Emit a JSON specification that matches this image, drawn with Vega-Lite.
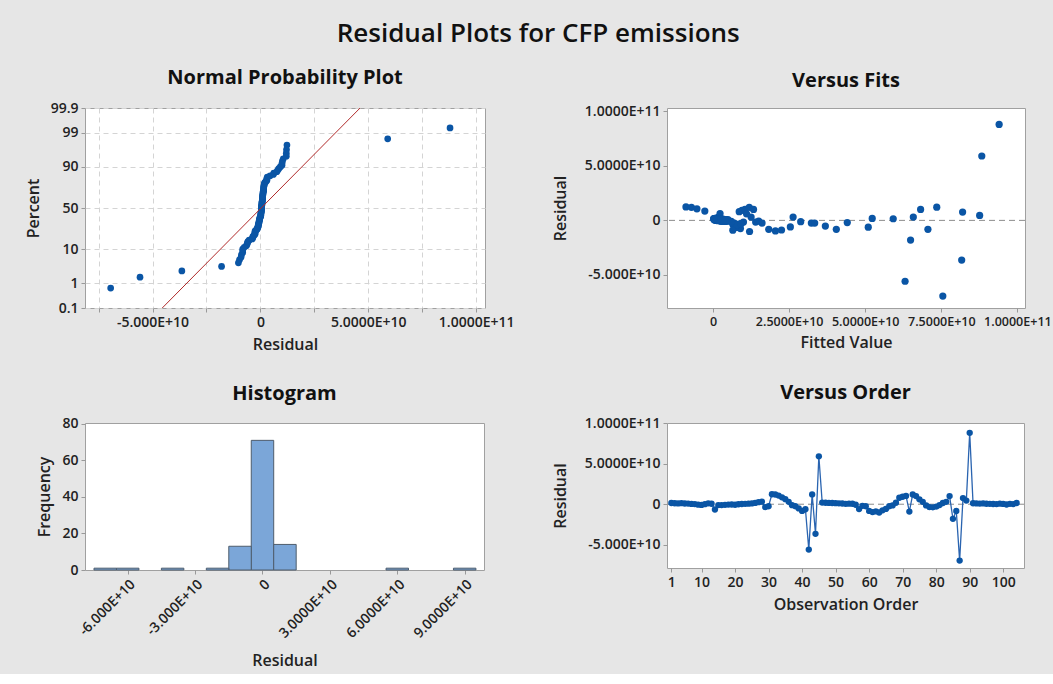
{
  "$schema": "https://vega.github.io/schema/vega-lite/v6.json",
  "background": "#e6e6e6",
  "padding": {"left": 24, "top": 20, "right": 10, "bottom": 5},
  "title": {"text": "Residual Plots for CFP emissions", "fontSize": 26, "fontWeight": 600, "font": "Open Sans", "color": "#111111", "anchor": "middle", "offset": 21},
  "datasets": {
    "obs": [
      {"order": 1, "fit": 0.5e9, "resid": 1.5e9, "z": 0.542},
      {"order": 2, "fit": 1.0e9, "resid": 1.2e9, "z": 0.433},
      {"order": 3, "fit": 1.5e9, "resid": 1.0e9, "z": 0.279},
      {"order": 4, "fit": 0.8e9, "resid": 1.3e9, "z": 0.487},
      {"order": 5, "fit": 2.0e9, "resid": 0.9e9, "z": 0.230},
      {"order": 6, "fit": 2.5e9, "resid": 0.8e9, "z": 0.181},
      {"order": 7, "fit": 3.0e9, "resid": 0.4e9, "z": -0.108},
      {"order": 8, "fit": 3.5e9, "resid": 0.2e9, "z": -0.230},
      {"order": 9, "fit": 4.5e9, "resid": -0.5e9, "z": -0.381},
      {"order": 10, "fit": 5.0e9, "resid": -0.8e9, "z": -0.487},
      {"order": 11, "fit": 1.2e9, "resid": 0.1e9, "z": -0.254},
      {"order": 12, "fit": 0.3e9, "resid": 1.1e9, "z": 0.381},
      {"order": 13, "fit": 1.8e9, "resid": 0.6e9, "z": 0.036},
      {"order": 14, "fit": 8.0e9, "resid": -6.5e9, "z": -1.167},
      {"order": 15, "fit": 4.0e9, "resid": -1.0e9, "z": -0.570},
      {"order": 16, "fit": 3.2e9, "resid": -1.0e9, "z": -0.542},
      {"order": 17, "fit": 2.8e9, "resid": -0.7e9, "z": -0.460},
      {"order": 18, "fit": 2.2e9, "resid": -0.4e9, "z": -0.355},
      {"order": 19, "fit": 1.6e9, "resid": -0.3e9, "z": -0.330},
      {"order": 20, "fit": 2.6e9, "resid": -0.6e9, "z": -0.433},
      {"order": 21, "fit": 1.0e9, "resid": 0.0, "z": -0.279},
      {"order": 22, "fit": 0.6e9, "resid": 0.3e9, "z": -0.157},
      {"order": 23, "fit": 0.4e9, "resid": 0.5e9, "z": -0.060},
      {"order": 24, "fit": 0.9e9, "resid": 0.7e9, "z": 0.108},
      {"order": 25, "fit": 1.4e9, "resid": 1.0e9, "z": 0.305},
      {"order": 26, "fit": 0.2e9, "resid": 1.6e9, "z": 0.657},
      {"order": 27, "fit": 1.7e9, "resid": 2.5e9, "z": 0.814},
      {"order": 28, "fit": 2.0e9, "resid": 3.2e9, "z": 0.956},
      {"order": 29, "fit": 6.5e9, "resid": -3.5e9, "z": -0.918},
      {"order": 30, "fit": 7.0e9, "resid": -2.5e9, "z": -0.814},
      {"order": 31, "fit": -8.9e9, "resid": 12.3e9, "z": 1.946},
      {"order": 32, "fit": -7.1e9, "resid": 12.0e9, "z": 1.602},
      {"order": 33, "fit": -5.3e9, "resid": 10.6e9, "z": 1.522},
      {"order": 34, "fit": -2.7e9, "resid": 8.5e9, "z": 1.216},
      {"order": 35, "fit": 2.3e9, "resid": 6.2e9, "z": 1.077},
      {"order": 36, "fit": 26.3e9, "resid": 3.0e9, "z": 0.848},
      {"order": 37, "fit": 28.8e9, "resid": -1.2e9, "z": -0.598},
      {"order": 38, "fit": 32.3e9, "resid": -2.5e9, "z": -0.781},
      {"order": 39, "fit": 36.9e9, "resid": -5.2e9, "z": -0.994},
      {"order": 40, "fit": 40.5e9, "resid": -8.2e9, "z": -1.383},
      {"order": 41, "fit": 51.0e9, "resid": -6.2e9, "z": -1.120},
      {"order": 42, "fit": 63.1e9, "resid": -55.8e9, "z": -2.137},
      {"order": 43, "fit": 73.5e9, "resid": 12.1e9, "z": 1.806},
      {"order": 44, "fit": 81.7e9, "resid": -36.4e9, "z": -1.946},
      {"order": 45, "fit": 88.3e9, "resid": 59.0e9, "z": 2.137},
      {"order": 46, "fit": 1.1e9, "resid": 2.0e9, "z": 0.781},
      {"order": 47, "fit": 0.7e9, "resid": 1.8e9, "z": 0.717},
      {"order": 48, "fit": 2.1e9, "resid": 1.6e9, "z": 0.686},
      {"order": 49, "fit": 2.4e9, "resid": 1.5e9, "z": 0.570},
      {"order": 50, "fit": 3.1e9, "resid": 1.3e9, "z": 0.514},
      {"order": 51, "fit": 1.9e9, "resid": 1.1e9, "z": 0.407},
      {"order": 52, "fit": 2.3e9, "resid": 0.9e9, "z": 0.254},
      {"order": 53, "fit": 3.7e9, "resid": 0.5e9, "z": -0.036},
      {"order": 54, "fit": 4.3e9, "resid": 0.7e9, "z": 0.132},
      {"order": 55, "fit": 4.9e9, "resid": 0.6e9, "z": 0.060},
      {"order": 56, "fit": 15.0e9, "resid": -0.6e9, "z": -0.407},
      {"order": 57, "fit": 25.4e9, "resid": -6.0e9, "z": -1.077},
      {"order": 58, "fit": 44.1e9, "resid": -2.0e9, "z": -0.686},
      {"order": 59, "fit": 16.1e9, "resid": -2.5e9, "z": -0.749},
      {"order": 60, "fit": 18.3e9, "resid": -8.2e9, "z": -1.323},
      {"order": 61, "fit": 20.5e9, "resid": -9.7e9, "z": -1.602},
      {"order": 62, "fit": 22.5e9, "resid": -8.8e9, "z": -1.449},
      {"order": 63, "fit": 12.0e9, "resid": -10.2e9, "z": -1.695},
      {"order": 64, "fit": 9.0e9, "resid": -7.5e9, "z": -1.216},
      {"order": 65, "fit": 7.5e9, "resid": -5.8e9, "z": -1.035},
      {"order": 66, "fit": 33.4e9, "resid": -2.5e9, "z": -0.717},
      {"order": 67, "fit": 10.0e9, "resid": -1.5e9, "z": -0.657},
      {"order": 68, "fit": 52.3e9, "resid": 1.8e9, "z": 0.749},
      {"order": 69, "fit": 8.6e9, "resid": 8.0e9, "z": 1.167},
      {"order": 70, "fit": 9.5e9, "resid": 9.2e9, "z": 1.268},
      {"order": 71, "fit": 10.5e9, "resid": 10.2e9, "z": 1.449},
      {"order": 72, "fit": 6.5e9, "resid": -9.0e9, "z": -1.522},
      {"order": 73, "fit": 11.9e9, "resid": 12.0e9, "z": 1.695},
      {"order": 74, "fit": 13.3e9, "resid": 10.0e9, "z": 1.323},
      {"order": 75, "fit": 11.0e9, "resid": 6.0e9, "z": 1.035},
      {"order": 76, "fit": 12.5e9, "resid": 3.0e9, "z": 0.882},
      {"order": 77, "fit": 14.0e9, "resid": -1.5e9, "z": -0.627},
      {"order": 78, "fit": 8.5e9, "resid": -3.5e9, "z": -0.882},
      {"order": 79, "fit": 7.8e9, "resid": -3.8e9, "z": -0.956},
      {"order": 80, "fit": 9.2e9, "resid": -3.0e9, "z": -0.848},
      {"order": 81, "fit": 6.0e9, "resid": -1.0e9, "z": -0.514},
      {"order": 82, "fit": 59.2e9, "resid": 1.5e9, "z": 0.598},
      {"order": 83, "fit": 65.8e9, "resid": 3.0e9, "z": 0.918},
      {"order": 84, "fit": 68.2e9, "resid": 10.0e9, "z": 1.383},
      {"order": 85, "fit": 64.9e9, "resid": -18.0e9, "z": -1.806},
      {"order": 86, "fit": 70.6e9, "resid": -8.2e9, "z": -1.268},
      {"order": 87, "fit": 75.5e9, "resid": -69.4e9, "z": -2.474},
      {"order": 88, "fit": 82.0e9, "resid": 7.6e9, "z": 1.120},
      {"order": 89, "fit": 87.6e9, "resid": 4.5e9, "z": 0.994},
      {"order": 90, "fit": 94.0e9, "resid": 87.9e9, "z": 2.474},
      {"order": 91, "fit": 0.5e9, "resid": 1.2e9, "z": 0.460},
      {"order": 92, "fit": 1.3e9, "resid": 1.0e9, "z": 0.330},
      {"order": 93, "fit": 2.0e9, "resid": 0.8e9, "z": 0.205},
      {"order": 94, "fit": 1.0e9, "resid": 1.0e9, "z": 0.355},
      {"order": 95, "fit": 2.6e9, "resid": 0.6e9, "z": 0.084},
      {"order": 96, "fit": 3.0e9, "resid": 0.5e9, "z": -0.012},
      {"order": 97, "fit": 1.8e9, "resid": 0.3e9, "z": -0.132},
      {"order": 98, "fit": 3.8e9, "resid": 0.2e9, "z": -0.205},
      {"order": 99, "fit": 0.9e9, "resid": 0.7e9, "z": 0.157},
      {"order": 100, "fit": 2.4e9, "resid": 0.4e9, "z": -0.084},
      {"order": 101, "fit": 3.3e9, "resid": -0.3e9, "z": -0.305},
      {"order": 102, "fit": 1.5e9, "resid": 0.5e9, "z": 0.012},
      {"order": 103, "fit": 4.1e9, "resid": 0.2e9, "z": -0.181},
      {"order": 104, "fit": 0.3e9, "resid": 1.5e9, "z": 0.627}
    ],
    "refline": [
      {"resid": -4.55e10, "z": -3.0902},
      {"resid": 4.62e10, "z": 3.0902}
    ]
  },
  "config": {
    "font": "Open Sans",
    "view": {"fill": "white", "stroke": "#a0a0a0", "strokeWidth": 1},
    "axis": {
      "labelFont": "Open Sans", "labelFontSize": 14, "labelFontWeight": 600, "labelColor": "#222222",
      "titleFont": "Open Sans", "titleFontSize": 16, "titleFontWeight": 600, "titleColor": "#222222",
      "domain": false, "tickColor": "#999999", "tickSize": 4, "labelPadding": 3, "labelOverlap": false,
      "grid": false, "gridColor": "#d4d4d4", "gridDash": [5, 4], "gridWidth": 1
    },
    "axisX": {"titlePadding": 7},
    "axisY": {"titlePadding": 9},
    "title": {"font": "Open Sans", "fontSize": 20, "fontWeight": "bold", "color": "#111111", "offset": 13}
  },
  "columns": 2,
  "bounds": "flush",
  "spacing": {"row": 115, "column": 182},
  "concat": [
    {
      "width": 400, "height": 200,
      "title": "Normal Probability Plot",
      "layer": [
        {
          "data": {"name": "obs"},
          "mark": {"type": "circle", "size": 45, "color": "#0a55a5", "opacity": 1},
          "encoding": {
            "x": {"field": "resid", "type": "quantitative", "title": "Residual",
              "scale": {"domain": [-8.13e10, 1.041e11], "nice": false, "zero": false},
              "axis": {"grid": true, "labelOverlap": false, "values": [-7.5e10, -5e10, -2.5e10, 0, 2.5e10, 5e10, 7.5e10, 1e11],
                "labelExpr": "datum.value == -5e10 ? '-5.000E+10' : datum.value == 0 ? '0' : datum.value == 5e10 ? '5.0000E+10' : datum.value == 1e11 ? '1.0000E+11' : ''"}},
            "y": {"field": "z", "type": "quantitative", "title": "Percent",
              "scale": {"domain": [-3.0902, 3.0902], "nice": false, "zero": false},
              "axis": {"grid": true, "labelOverlap": false, "values": [-3.0902, -2.3263, -1.2816, 0, 1.2816, 2.3263, 3.0902],
                "labelExpr": "datum.value < -3 ? '0.1' : datum.value < -2 ? '1' : datum.value < -1 ? '10' : datum.value < 0.5 ? '50' : datum.value < 2 ? '90' : datum.value < 3 ? '99' : '99.9'"}}
          }
        },
        {
          "data": {"name": "refline"},
          "mark": {"type": "line", "color": "#b02a2a", "strokeWidth": 1, "clip": true},
          "encoding": {
            "x": {"field": "resid", "type": "quantitative", "title": "Residual",
              "scale": {"domain": [-8.13e10, 1.041e11], "nice": false, "zero": false},
              "axis": {"grid": true, "labelOverlap": false, "values": [-7.5e10, -5e10, -2.5e10, 0, 2.5e10, 5e10, 7.5e10, 1e11],
                "labelExpr": "datum.value == -5e10 ? '-5.000E+10' : datum.value == 0 ? '0' : datum.value == 5e10 ? '5.0000E+10' : datum.value == 1e11 ? '1.0000E+11' : ''"}},
            "y": {"field": "z", "type": "quantitative", "title": "Percent",
              "scale": {"domain": [-3.0902, 3.0902], "nice": false, "zero": false},
              "axis": {"grid": true, "labelOverlap": false, "values": [-3.0902, -2.3263, -1.2816, 0, 1.2816, 2.3263, 3.0902],
                "labelExpr": "datum.value < -3 ? '0.1' : datum.value < -2 ? '1' : datum.value < -1 ? '10' : datum.value < 0.5 ? '50' : datum.value < 2 ? '90' : datum.value < 3 ? '99' : '99.9'"}}
          }
        }
      ]
    },
    {
      "width": 358, "height": 200,
      "title": "Versus Fits",
      "layer": [
        {
          "data": {"values": [{}]},
          "mark": {"type": "rule", "color": "#8c8c8c", "strokeDash": [6, 4], "strokeWidth": 1},
          "encoding": {"y": {"datum": 0, "type": "quantitative"}}
        },
        {
          "data": {"name": "obs"},
          "mark": {"type": "circle", "size": 52, "color": "#0a55a5", "opacity": 1},
          "encoding": {
            "x": {"field": "fit", "type": "quantitative", "title": "Fitted Value",
              "scale": {"domain": [-1.513e10, 1.025e11], "nice": false, "zero": false},
              "axis": {"labelOverlap": false, "labelFontSize": 12.5, "values": [0, 2.5e10, 5e10, 7.5e10, 1e11],
                "labelExpr": "datum.value == 0 ? '0' : datum.value == 2.5e10 ? '2.5000E+10' : datum.value == 5e10 ? '5.0000E+10' : datum.value == 7.5e10 ? '7.5000E+10' : '1.0000E+11'"}},
            "y": {"field": "resid", "type": "quantitative", "title": "Residual",
              "scale": {"domain": [-8.03e10, 1.03e11], "nice": false, "zero": false},
              "axis": {"labelOverlap": false, "titlePadding": 16, "values": [-5e10, 0, 5e10, 1e11],
                "labelExpr": "datum.value == 0 ? '0' : datum.value == 5e10 ? '5.0000E+10' : datum.value == 1e11 ? '1.0000E+11' : '-5.000E+10'"}}
          }
        }
      ]
    },
    {
      "width": 399, "height": 147,
      "title": "Histogram",
      "data": {"name": "obs"},
      "transform": [
        {"bin": {"step": 1e10, "anchor": -7.5e10, "extent": [-7.5e10, 9.5e10], "nice": false}, "field": "resid", "as": ["b0", "b1"]},
        {"aggregate": [{"op": "count", "as": "n"}], "groupby": ["b0", "b1"]}
      ],
      "mark": {"type": "bar", "fill": "#7ba6d8", "stroke": "#4e5c6c", "strokeWidth": 1},
      "encoding": {
        "x": {"field": "b0", "type": "quantitative", "title": "Residual",
          "scale": {"domain": [-7.9e10, 9.86e10], "nice": false, "zero": false},
          "axis": {"labelOverlap": false, "values": [-6e10, -3e10, 0, 3e10, 6e10, 9e10], "labelAngle": -45, "titlePadding": 12,
            "labelExpr": "datum.value == -6e10 ? '-6.000E+10' : datum.value == -3e10 ? '-3.000E+10' : datum.value == 0 ? '0' : datum.value == 3e10 ? '3.0000E+10' : datum.value == 6e10 ? '6.0000E+10' : '9.0000E+10'"}},
        "x2": {"field": "b1"},
        "y": {"field": "n", "type": "quantitative", "title": "Frequency",
          "scale": {"domain": [0, 80.5], "nice": false},
          "axis": {"labelOverlap": false, "values": [0, 20, 40, 60, 80]}},
        "y2": {"datum": 0}
      }
    },
    {
      "width": 357, "height": 145,
      "title": "Versus Order",
      "layer": [
        {
          "data": {"values": [{}]},
          "mark": {"type": "rule", "color": "#8c8c8c", "strokeDash": [6, 4], "strokeWidth": 1},
          "encoding": {"y": {"datum": 0, "type": "quantitative"}}
        },
        {
          "data": {"name": "obs"},
          "mark": {"type": "line", "color": "#2a64b0", "strokeWidth": 1.3},
          "encoding": {
            "x": {"field": "order", "type": "quantitative", "title": "Observation Order",
              "scale": {"domain": [-0.3, 106.2], "nice": false, "zero": false},
              "axis": {"labelOverlap": false, "values": [1, 10, 20, 30, 40, 50, 60, 70, 80, 90, 100]}},
            "y": {"field": "resid", "type": "quantitative", "title": "Residual",
              "scale": {"domain": [-7.85e10, 1.0e11], "nice": false, "zero": false},
              "axis": {"labelOverlap": false, "titlePadding": 16, "values": [-5e10, 0, 5e10, 1e11],
                "labelExpr": "datum.value == 0 ? '0' : datum.value == 5e10 ? '5.0000E+10' : datum.value == 1e11 ? '1.0000E+11' : '-5.000E+10'"}}
          }
        },
        {
          "data": {"name": "obs"},
          "mark": {"type": "circle", "size": 40, "color": "#0a55a5", "opacity": 1},
          "encoding": {
            "x": {"field": "order", "type": "quantitative", "title": "Observation Order",
              "scale": {"domain": [-0.3, 106.2], "nice": false, "zero": false},
              "axis": {"labelOverlap": false, "values": [1, 10, 20, 30, 40, 50, 60, 70, 80, 90, 100]}},
            "y": {"field": "resid", "type": "quantitative", "title": "Residual",
              "scale": {"domain": [-7.85e10, 1.0e11], "nice": false, "zero": false},
              "axis": {"labelOverlap": false, "titlePadding": 16, "values": [-5e10, 0, 5e10, 1e11],
                "labelExpr": "datum.value == 0 ? '0' : datum.value == 5e10 ? '5.0000E+10' : datum.value == 1e11 ? '1.0000E+11' : '-5.000E+10'"}}
          }
        }
      ]
    }
  ]
}
